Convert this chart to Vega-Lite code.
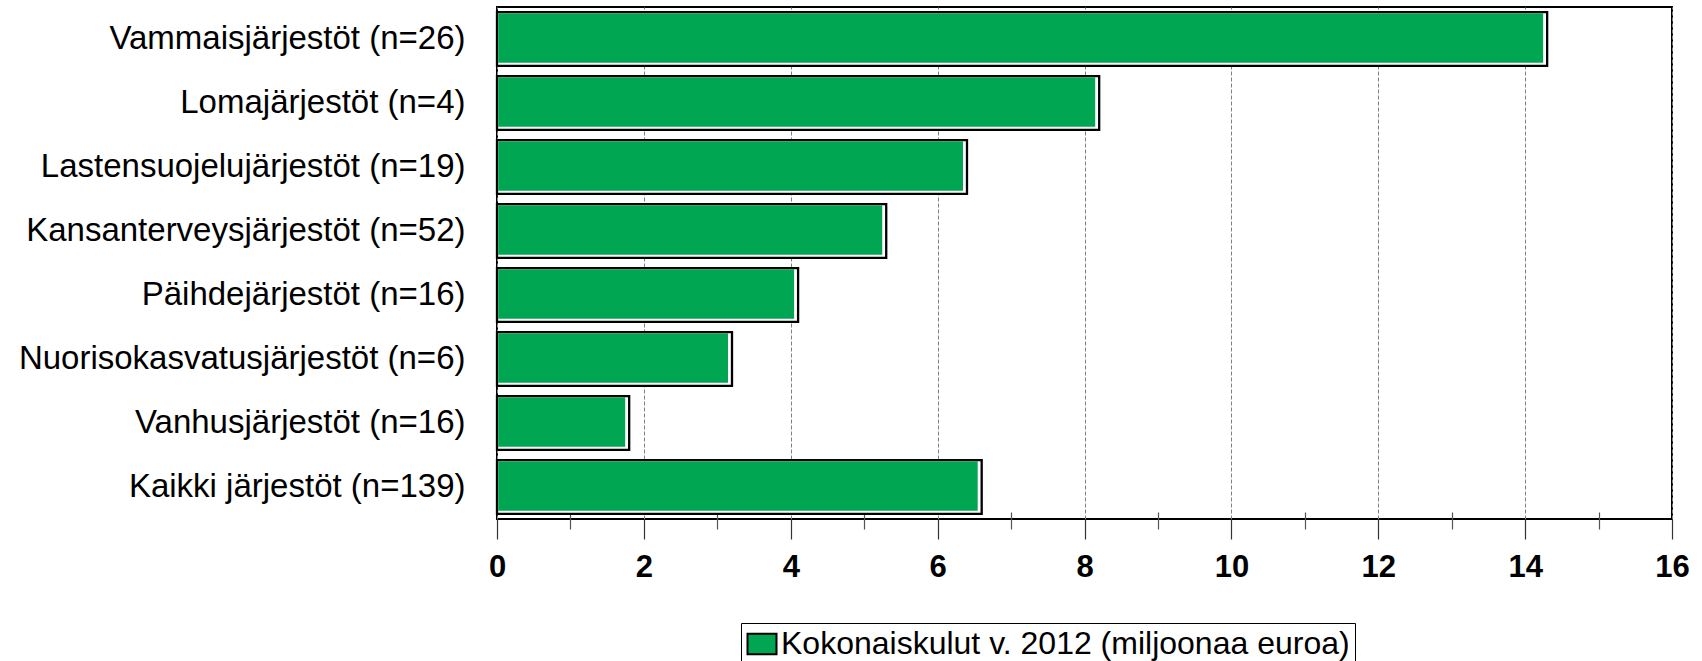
{
  "$schema": "https://vega.github.io/schema/vega-lite/v6.json",
  "width": 1175,
  "height": 512,
  "autosize": {"type": "none"},
  "padding": {"left": 497, "top": 7, "right": 30, "bottom": 142},
  "background": "white",
  "config": {
    "view": {"stroke": "black", "strokeWidth": 2},
    "font": "Liberation Sans"
  },
  "data": {
    "values": [
      {"group": "Vammaisjärjestöt (n=26)", "value": 14.3, "series": "Kokonaiskulut v. 2012 (miljoonaa euroa)"},
      {"group": "Lomajärjestöt (n=4)", "value": 8.2, "series": "Kokonaiskulut v. 2012 (miljoonaa euroa)"},
      {"group": "Lastensuojelujärjestöt (n=19)", "value": 6.4, "series": "Kokonaiskulut v. 2012 (miljoonaa euroa)"},
      {"group": "Kansanterveysjärjestöt (n=52)", "value": 5.3, "series": "Kokonaiskulut v. 2012 (miljoonaa euroa)"},
      {"group": "Päihdejärjestöt (n=16)", "value": 4.1, "series": "Kokonaiskulut v. 2012 (miljoonaa euroa)"},
      {"group": "Nuorisokasvatusjärjestöt (n=6)", "value": 3.2, "series": "Kokonaiskulut v. 2012 (miljoonaa euroa)"},
      {"group": "Vanhusjärjestöt (n=16)", "value": 1.8, "series": "Kokonaiskulut v. 2012 (miljoonaa euroa)"},
      {"group": "Kaikki järjestöt (n=139)", "value": 6.6, "series": "Kokonaiskulut v. 2012 (miljoonaa euroa)"}
    ]
  },
  "encoding": {
    "y": {
      "field": "group",
      "type": "nominal",
      "sort": null,
      "scale": {"paddingInner": 0.16, "paddingOuter": 0.08},
      "axis": {
        "title": null,
        "ticks": false,
        "domain": false,
        "labelFont": "Liberation Sans",
        "labelFontSize": 33,
        "labelColor": "black",
        "labelPadding": 32,
        "labelLimit": 800
      }
    }
  },
  "layer": [
    {
      "mark": {"type": "bar", "fill": "white", "stroke": "black", "strokeWidth": 2.3},
      "encoding": {
        "x": {
          "field": "value",
          "type": "quantitative",
          "scale": {"domain": [0, 16], "nice": false},
          "axis": {
            "orient": "bottom",
            "title": null,
            "values": [0, 2, 4, 6, 8, 10, 12, 14, 16],
            "domain": false,
            "grid": true,
            "gridColor": "#808080",
            "gridDash": [4, 2],
            "gridWidth": 1,
            "tickSize": 20,
            "tickColor": "#333333",
            "tickWidth": 1.2,
            "labelFont": "Liberation Sans",
            "labelFontSize": 31,
            "labelFontWeight": "bold",
            "labelColor": "black",
            "labelPadding": 13,
            "labelFlush": false
          }
        },
        "x2": {"datum": 0}
      }
    },
    {
      "mark": {"type": "bar", "size": 49.5, "yOffset": -1, "xOffset": -4, "x2Offset": 1.2},
      "encoding": {
        "x": {"field": "value", "type": "quantitative", "axis": null},
        "x2": {"datum": 0},
        "fill": {
          "field": "series",
          "type": "nominal",
          "scale": {"range": ["#00A651"]},
          "legend": {
            "title": null,
            "orient": "none",
            "legendX": 244,
            "legendY": 616,
            "direction": "horizontal",
            "strokeColor": "black",
            "fillColor": "white",
            "padding": 5,
            "labelFont": "Liberation Sans",
            "labelFontSize": 32,
            "labelColor": "black",
            "labelLimit": 900,
            "labelOffset": 3,
            "labelExpr": "datum.label + '\u00a0\u00a0'",
            "symbolType": "M-1,-0.7H1V0.7H-1Z",
            "symbolSize": 841,
            "symbolStrokeColor": "black",
            "symbolStrokeWidth": 2,
            "symbolOpacity": 1
          }
        }
      }
    },
    {
      "mark": {"type": "bar", "opacity": 0},
      "encoding": {
        "x": {
          "field": "value",
          "type": "quantitative",
          "axis": {
            "orient": "bottom",
            "title": null,
            "values": [1, 3, 5, 7, 9, 11, 13, 15],
            "offset": -7,
            "tickSize": 17,
            "tickColor": "#555555",
            "tickWidth": 1.2,
            "labels": false,
            "domain": false,
            "grid": false
          }
        },
        "x2": {"datum": 0}
      }
    }
  ],
  "resolve": {"axis": {"x": "independent"}}
}
